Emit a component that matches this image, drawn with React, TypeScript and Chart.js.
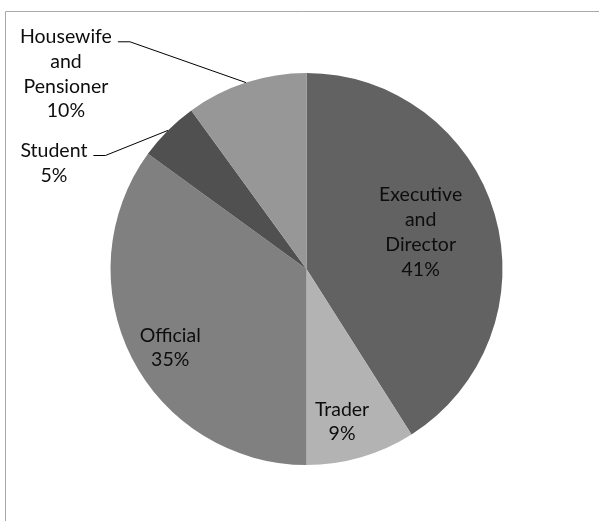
import React, { useEffect, useRef } from "react";
import { Chart, registerables } from "chart.js";

Chart.register(...registerables);

const categories = ["Executive and Director", "Trader", "Official", "Student", "Housewife and Pensioner"];
const labelLines = [
  ["Executive", "and", "Director"],
  ["Trader"],
  ["Official"],
  ["Student"],
  ["Housewife", "and", "Pensioner"],
];
const shares = [41, 9, 35, 5, 10];
const colors = ["#626262", "#b3b3b3", "#808080", "#505050", "#979797"];

// label placement: inside (radial fraction + angle nudge in degrees) or outside (offset from edge point)
const placement: any[] = [
  { inside: true, frac: 0.612, dAng: -1.7 },
  { inside: true, frac: 0.8, dAng: 3.1 },
  { inside: true, frac: 0.803, dAng: -3 },
  { inside: false, dx: -114, dy: 32.5 },
  { inside: false, dx: -180, dy: -8.6 },
];

const FONT = "19.5px Lato";
const LINE_H = 24.8;

const labelPlugin = {
  id: "pieLabels",
  beforeDraw(chart: any) {
    const ctx = chart.ctx;
    ctx.save();
    ctx.strokeStyle = "#a9a9a9";
    ctx.lineWidth = 1;
    ctx.beginPath();
    ctx.moveTo(5.5, 521);
    ctx.lineTo(5.5, 11.5);
    ctx.lineTo(599, 11.5);
    ctx.stroke();
    ctx.restore();
  },
  afterDatasetsDraw(chart: any) {
    const ctx = chart.ctx;
    const meta = chart.getDatasetMeta(0);
    ctx.save();
    ctx.font = FONT;
    ctx.fillStyle = "#0d0d0d";
    ctx.textAlign = "center";
    ctx.textBaseline = "middle";
    meta.data.forEach((arc: any, i: number) => {
      const p = arc.getProps(["x", "y", "startAngle", "endAngle", "outerRadius"], true);
      const mid = (p.startAngle + p.endAngle) / 2;
      const lines = [...labelLines[i], shares[i] + "%"];
      const pl = placement[i];
      let cx: number, cy: number;
      if (pl.inside) {
        const a = mid + (pl.dAng * Math.PI) / 180;
        cx = p.x + Math.cos(a) * p.outerRadius * pl.frac;
        cy = p.y + Math.sin(a) * p.outerRadius * pl.frac;
      } else {
        const ex = p.x + Math.cos(mid) * p.outerRadius;
        const ey = p.y + Math.sin(mid) * p.outerRadius;
        cx = ex + pl.dx;
        cy = ey + pl.dy;
        const top = cy - ((lines.length - 1) * LINE_H) / 2;
        const w = ctx.measureText(lines[0]).width;
        const tx = cx + w / 2 + 6;
        const ly = top + 5;
        ctx.save();
        ctx.strokeStyle = "#000";
        ctx.lineWidth = 1;
        ctx.beginPath();
        ctx.moveTo(tx, ly);
        ctx.lineTo(tx + 12, ly);
        ctx.lineTo(ex, ey);
        ctx.stroke();
        ctx.restore();
      }
      const top = cy - ((lines.length - 1) * LINE_H) / 2;
      lines.forEach((t, k) => ctx.fillText(t, cx, top + k * LINE_H));
    });
    ctx.restore();
  },
};

export default function App() {
  const ref = useRef<HTMLCanvasElement>(null);
  useEffect(() => {
    document.body.style.margin = "0";
    const chart = new Chart(ref.current!, {
      type: "pie",
      data: {
        labels: categories,
        datasets: [{ data: shares, backgroundColor: colors, borderWidth: 0 }],
      },
      options: {
        animation: false,
        responsive: false,
        layout: { padding: { left: 110.5, right: 96.5, top: 73, bottom: 56 } },
        plugins: { legend: { display: false }, tooltip: { enabled: false } },
      },
      plugins: [labelPlugin],
    });
    return () => chart.destroy();
  }, []);
  return (
    <div style={{ position: "fixed", left: 0, top: 0, width: 599, height: 521, background: "#fff" }}>
      <canvas ref={ref} width={599} height={521} style={{ width: 599, height: 521 }} />
    </div>
  );
}
